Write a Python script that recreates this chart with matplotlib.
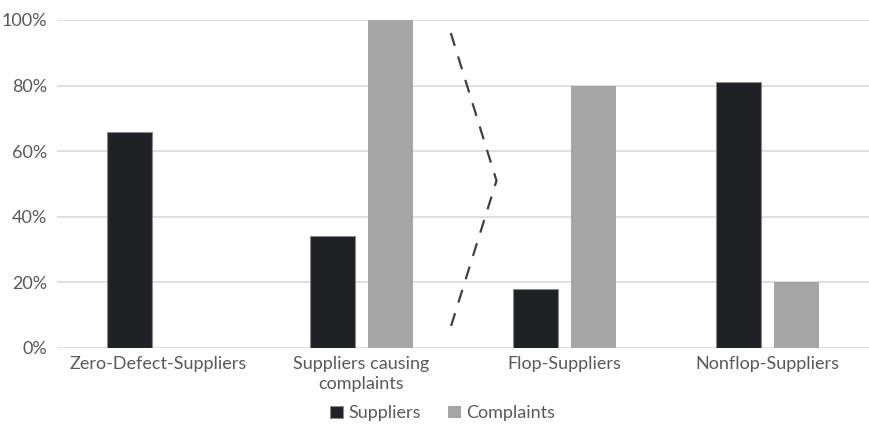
import matplotlib
matplotlib.use("Agg")
import matplotlib.pyplot as plt
import numpy as np
from matplotlib.ticker import PercentFormatter

categories = ["Zero-Defect-Suppliers", "Suppliers causing\ncomplaints",
              "Flop-Suppliers", "Nonflop-Suppliers"]
suppliers = [66, 34, 18, 81]
complaints = [0, 100, 80, 20]
yticks = [0, 20, 40, 60, 80, 100]

# dashed separator (data coords)
sep_x = [1.44, 1.665, 1.43]
sep_y = [96, 51, 4.5]

plt.rcParams["font.family"] = ["Lato", "DejaVu Sans"]

fig = plt.figure(figsize=(8.69, 4.30), dpi=100)
ax = fig.add_axes([0.0656, 0.1907, 0.9344, 0.7628])

x = np.arange(len(categories))
w = 0.222
off = 0.145
ax.bar(x - off, suppliers, w, color="#202124", edgecolor="#8a8a8a",
       linewidth=0.8, label="Suppliers", zorder=3)
ax.bar(x + off, complaints, w, color="#a5a5a5", label="Complaints", zorder=3)

ax.plot(sep_x, sep_y, color="#404040", linestyle=(0, (6, 5)), linewidth=1.6, zorder=4)

ax.set_xlim(-0.5, 3.5)
ax.set_ylim(0, 100)
ax.set_yticks(yticks)
ax.yaxis.set_major_formatter(PercentFormatter(decimals=0))
ax.set_xticks(x)
ax.set_xticklabels(categories, linespacing=1.3)
ax.grid(axis="y", color="#d9d9d9", linewidth=1.2, zorder=0)
for s in ax.spines.values():
    s.set_visible(False)
ax.tick_params(length=0, labelsize=13, labelcolor="#595959")
ax.tick_params(axis="y", pad=7)
ax.tick_params(axis="x", pad=6)

ax.legend(loc="upper center", bbox_to_anchor=(0.475, -0.125), ncol=2, frameon=False,
          fontsize=13, labelcolor="#595959", handlelength=0.7, handleheight=0.7,
          handletextpad=0.3, columnspacing=1.5)

fig.savefig("out.png", dpi=100)
